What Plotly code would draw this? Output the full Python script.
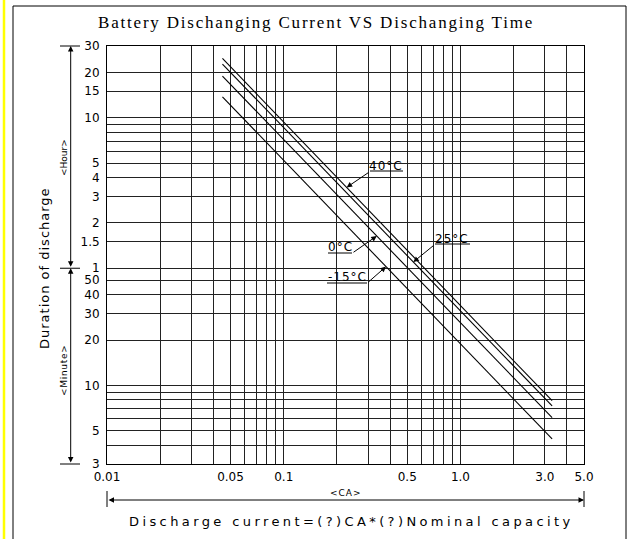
import math
import plotly.graph_objects as go

# ---------------- data ----------------
current_ca = [0.045, 3.3]                 # discharge current (CA), line ends
temps = ["40°C", "25°C", "0°C", "-15°C"]
dur_40 = [1488, 7.9]                      # minutes
dur_25 = [1365, 7.3]
dur_0 = [1135, 6.1]
dur_m15 = [827, 4.4]
series = [dur_40, dur_25, dur_0, dur_m15]

x_grid = [0.01, 0.02, 0.03, 0.04, 0.05, 0.06, 0.07, 0.08, 0.09,
          0.1, 0.2, 0.3, 0.4, 0.5, 0.6, 0.7, 0.8, 0.9,
          1, 2, 3, 4, 5]
x_tick_labels = {0.01: "0.01", 0.05: "0.05", 0.1: "0.1", 0.5: "0.5",
                 1: "1.0", 3: "3.0", 5: "5.0"}
y_grid_min = [3, 4, 5, 6, 7, 8, 9, 10, 20, 30, 40, 50, 60, 90, 120, 180,
              240, 300, 360, 420, 480, 540, 600, 900, 1200, 1800]
y_tick_labels = {1800: "30", 1200: "20", 900: "15", 600: "10", 300: "5",
                 240: "4", 180: "3", 120: "2", 90: "1.5", 60: "1",
                 50: "50", 40: "40", 30: "30", 20: "20", 10: "10",
                 5: "5", 3: "3"}
label_tip_ca = [0.227, 0.541, 0.336, 0.379]   # where each label points

# ---------------- geometry ----------------
W, H = 630, 539
L, R, T, B = 107, 584, 46, 464
XMIN, XMAX = 0.01, 5.0
YMIN, YMAX = 3, 1800


def px(x):
    return (x - L) / (R - L)


def py(y):
    return (B - y) / (B - T)


def data_to_paper(xv, yv):
    return ((math.log10(xv) - math.log10(XMIN)) / (math.log10(XMAX) - math.log10(XMIN)),
            (math.log10(yv) - math.log10(YMIN)) / (math.log10(YMAX) - math.log10(YMIN)))


CAD = "DejaVu Sans, Verdana, sans-serif"
TICK_FONT = dict(family=CAD, size=12, color="black")

fig = go.Figure()
for name, ys in zip(temps, series):
    fig.add_trace(go.Scatter(x=current_ca, y=ys, mode="lines", name=name,
                             line=dict(color="black", width=1.1), showlegend=False))

fig.update_xaxes(type="log", range=[math.log10(XMIN), math.log10(XMAX)],
                 tickmode="array", tickvals=x_grid,
                 ticktext=[x_tick_labels.get(v, "") for v in x_grid],
                 showgrid=True, gridcolor="#222", gridwidth=1, zeroline=False,
                 showline=True, mirror=True, linecolor="black", linewidth=1,
                 ticks="", tickfont=TICK_FONT, ticklabelstandoff=2)
fig.update_yaxes(type="log", range=[math.log10(YMIN), math.log10(YMAX)],
                 tickmode="array", tickvals=y_grid_min,
                 ticktext=[y_tick_labels.get(v, "") for v in y_grid_min],
                 showgrid=True, gridcolor="#222", gridwidth=1, zeroline=False,
                 showline=True, mirror=True, linecolor="black", linewidth=1,
                 ticks="", tickfont=TICK_FONT, ticklabelstandoff=4)

shapes = []
ann = []


def seg(x0, y0, x1, y1, color="black", width=1):
    shapes.append(dict(type="line", xref="paper", yref="paper",
                       x0=px(x0), y0=py(y0), x1=px(x1), y1=py(y1),
                       line=dict(color=color, width=width)))


def text(xp, yp, s, size=12, angle=0, family=CAD, spacing=None, xanchor="center"):
    if spacing is not None:
        s = '<span style="letter-spacing:%spx">%s</span>' % (spacing, s)
    ann.append(dict(xref="paper", yref="paper", x=px(xp), y=py(yp), text=s,
                    showarrow=False, textangle=angle, xanchor=xanchor, yanchor="middle",
                    font=dict(family=family, size=size, color="black")))


def arrow(hx, hy, tx, ty, both=False):
    a = dict(xref="paper", yref="paper", x=px(hx), y=py(hy), ax=tx - hx, ay=ty - hy,
             axref="pixel", ayref="pixel", text="", showarrow=True,
             arrowhead=2, arrowsize=1.1, arrowwidth=1, arrowcolor="black", standoff=0)
    if both:
        a.update(arrowside="end+start", startarrowhead=2, startarrowsize=1.1, startstandoff=0)
    ann.append(a)


# page frame and yellow edge
seg(4, 0, 4, H, color="#FFFF00", width=2.5)
seg(13, 6, 626, 6)
seg(13, 6, 13, H)
seg(626, 6, 626, H)

# left dimension lines
_, p60 = data_to_paper(1, 60)
y60 = B - p60 * (B - T)
for yy in (T, y60, B):
    seg(60, yy, 80, yy)
arrow(70.7, T, 70.7, y60, both=True)
arrow(70.7, y60, 70.7, B, both=True)
text(64, 158, "&lt;Hour&gt;", size=9, angle=-90)
text(64, 371, "&lt;Minute&gt;", size=9, angle=-90, spacing=0.7)
text(44, 268, "Duration of discharge", size=13, angle=-90, spacing=1.0)

# bottom dimension line
seg(L, 491, L, 507)
seg(R, 491, R, 507)
arrow(R, 500, L, 500, both=True)
text(346, 493, "&lt;CA&gt;", size=9, spacing=1)
text(351, 521, "Discharge current=(?)CA*(?)Nominal capacity", size=13, spacing=3.4)

# title
text(316, 23, "Battery Dischanging Current VS Dischanging Time", size=17,
     family="Liberation Serif, Times New Roman, serif", spacing=1.8)

# temperature labels: text center, underline span, tail point
label_geo = [
    ((386, 166), (370, 403, 171), (370, 171.5)),
    ((452, 239), (435, 470, 244), (435, 244.3)),
    ((340, 247), (328, 352, 253), (352, 253.3)),
    ((347, 277), (327, 367, 283), (367, 283.3)),
]
for name, ys, tip_ca, (tc, ul, tail) in zip(temps, series, label_tip_ca, label_geo):
    lx0, lx1 = math.log10(current_ca[0]), math.log10(current_ca[1])
    f = (math.log10(tip_ca) - lx0) / (lx1 - lx0)
    ly = math.log10(ys[0]) + f * (math.log10(ys[1]) - math.log10(ys[0]))
    pxp, pyp = data_to_paper(tip_ca, 10 ** ly)
    hx = L + pxp * (R - L)
    hy = B - pyp * (B - T)
    arrow(hx, hy, tail[0], tail[1])
    seg(ul[0], ul[2], ul[1], ul[2])
    text(tc[0], tc[1], name, size=12, spacing=1.0)

fig.update_layout(width=W, height=H, margin=dict(l=L, r=W - R, t=T, b=H - B),
                  paper_bgcolor="white", plot_bgcolor="white",
                  shapes=shapes, annotations=ann, showlegend=False)

fig.write_html("out.html", config={"displayModeBar": False},
               post_script="document.body.style.margin='0';document.body.style.overflow='hidden';")
